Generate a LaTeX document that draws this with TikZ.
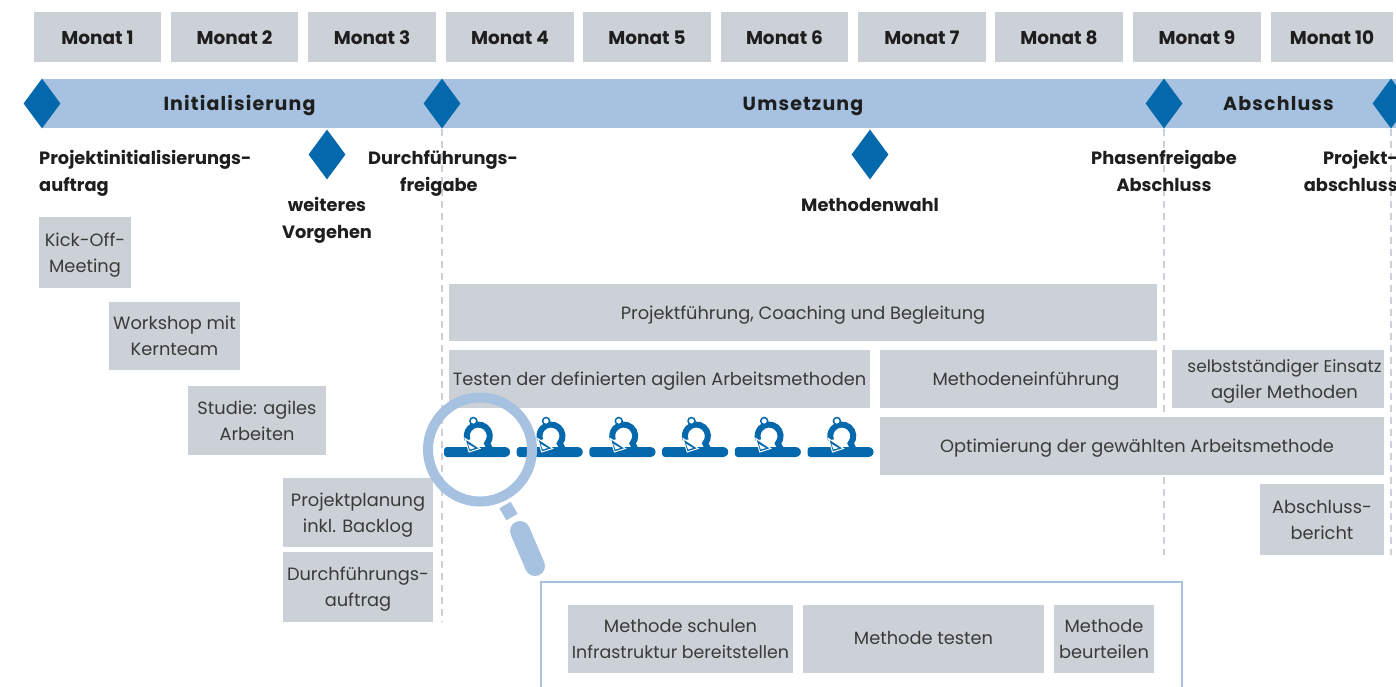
\documentclass[tikz,border=0pt]{standalone}
\usepackage{fontspec}
\setmainfont{Poppins}
\usetikzlibrary{shapes.geometric}
\definecolor{boxgray}{HTML}{CBD1D6}
\definecolor{bandblue}{HTML}{A6C2E0}
\definecolor{deepblue}{HTML}{0468AC}
\definecolor{txt}{HTML}{3A3A3A}
\definecolor{ink}{HTML}{1E1E1E}
\tikzset{
  graybox/.style={fill=boxgray,draw=none,inner sep=0pt,align=center,text=txt,font=\fontsize{17.8}{26}\selectfont},
  monthbox/.style={graybox,text=ink,font=\fontsize{18.5}{27}\bfseries\selectfont},
  bandbox/.style={fill=bandblue,draw=none,inner sep=0pt,text=ink,font=\fontsize{19}{27}\bfseries\addfontfeatures{LetterSpace=6}\selectfont},
  stone/.style={diamond,fill=deepblue,draw=none,inner sep=0pt,minimum width=37pt,minimum height=50pt,aspect=0.74},
  stonelabel/.style={inner sep=0pt,text=ink,font=\fontsize{17.8}{27}\bfseries\selectfont},
  gate/.style={draw=boxgray,line width=2pt,dash pattern=on 7pt off 5pt},
  lens/.style={draw=bandblue}
}
\newcommand{\bx}[7]{%
  \pgfmathsetmacro{\cxx}{(#3+#5)/2}\pgfmathsetmacro{\cyy}{(#4+#6)/2}%
  \pgfmathsetmacro{\wdd}{#5-#3}\pgfmathsetmacro{\htt}{#6-#4}%
  \node[#2,minimum width=\wdd pt,minimum height=\htt pt] (#1) at (\cxx,\cyy) {\raisebox{-1.7pt}[\height][\depth]{\begin{tabular}{@{}c@{}}#7\end{tabular}}};}
\newcommand{\sprint}[1]{%
  \begin{scope}[shift={(#1,0)}]
    \fill[deepblue,rounded corners=3pt] (444,447) -- (508,447) -- (511,452) -- (508,457) -- (444,457) -- cycle;
    \draw[deepblue,line width=6pt] (490,449) -- (487.1,443.4) arc (40:-200:11.5);
    \draw[white,line width=1pt,fill=deepblue] (465,438.5) -- (469,452) -- (480,448.5) -- cycle;
    \fill[white] (468,444) -- (470,449.5) -- (475,448) -- cycle;
    \draw[deepblue,line width=1.5pt,fill=white] (473.4,421) circle (3.5);
  \end{scope}}
\begin{document}
\begin{tikzpicture}[x=1pt,y=-1pt]
\useasboundingbox (0,0) rectangle (1396,686);
\bx{m1}{monthbox}{34}{12}{161}{62}{Monat 1}
\bx{m2}{monthbox}{171}{12}{298}{62}{Monat 2}
\bx{m3}{monthbox}{308}{12}{436}{62}{Monat 3}
\bx{m4}{monthbox}{446}{12}{574}{62}{Monat 4}
\bx{m5}{monthbox}{583}{12}{711}{62}{Monat 5}
\bx{m6}{monthbox}{721}{12}{848}{62}{Monat 6}
\bx{m7}{monthbox}{858}{12}{986}{62}{Monat 7}
\bx{m8}{monthbox}{995}{12}{1123}{62}{Monat 8}
\bx{m9}{monthbox}{1133}{12}{1261}{62}{Monat 9}
\bx{m10}{monthbox}{1271}{12}{1393}{62}{Monat 10}
\path[fill=bandblue] (42,79) rectangle (1396,128);
\node[bandbox,fill=none,anchor=base] (pI) at (239.5,110) {Initialisierung};
\node[bandbox,fill=none,anchor=base] (pU) at (803,110) {Umsetzung};
\node[bandbox,fill=none,anchor=base] (pA) at (1278.5,110) {Abschluss};
\coordinate (e1) at (442,622);
\coordinate (e2) at (1164,555);
\coordinate (e3) at (1391,555);
\node[stone] (d1) at (42,103.5) {};
\node[stone] (d2) at (442,103.5) {};
\node[stone] (d3) at (1164,103.5) {};
\node[stone] (d4) at (1391,103.5) {};
\node[stone] (d5) at (327,154.5) {};
\node[stone] (d6) at (870,154.5) {};
\draw[gate] (d2.south) -- (e1);
\draw[gate] (d3.south) -- (e2);
\draw[gate] (d4.south) -- (e3);
\node[stonelabel,align=left,anchor=north west] (l1) at (39,150) {Projektinitialisierungs-\\auftrag};
\node[stonelabel,align=center] (l2) at (327,220) {weiteres\\Vorgehen};
\node[stonelabel,align=left,anchor=north west] (l3) at (368,150) {Durchführungs-\\\hspace*{32pt}freigabe};
\node[stonelabel] (l4) at (870,205) {Methodenwahl};
\node[stonelabel,align=center] (l5) at (1164,170.5) {Phasenfreigabe\\Abschluss};
\node[stonelabel,align=right,anchor=north east] (l6) at (1398,150) {Projekt-\\abschluss};
\bx{b1}{graybox}{39}{217}{131}{288}{Kick-Off-\\Meeting}
\bx{b2}{graybox}{109}{302}{240}{370}{Workshop mit\\Kernteam}
\bx{b3}{graybox}{188}{386}{326}{455}{Studie: agiles\\Arbeiten}
\bx{b4}{graybox}{283}{478}{433}{547}{Projektplanung\\inkl. Backlog}
\bx{b5}{graybox}{283}{552}{433}{622}{Durchführungs-\\auftrag}
\bx{b6}{graybox}{449}{284}{1157}{341}{Projektführung, Coaching und Begleitung}
\bx{b7}{graybox}{449}{350}{870}{408}{Testen der definierten agilen Arbeitsmethoden}
\bx{b8}{graybox}{880}{350}{1157}{408}{\hspace*{15pt}Methodeneinführung}
\bx{b9}{graybox}{1172}{350}{1384}{408}{\hspace*{13pt}{\fontsize{17}{26}\selectfont selbstständiger Einsatz}\\\hspace*{13pt}{\fontsize{18}{26}\selectfont agiler Methoden}}
\bx{b10}{graybox}{880}{417}{1384}{475}{\hspace*{10pt}Optimierung der gewählten Arbeitsmethode}
\bx{b11}{graybox}{1260}{484}{1384}{555}{Abschluss-\\bericht}
\sprint{0}
\sprint{72.7}
\sprint{145.4}
\sprint{218.1}
\sprint{290.8}
\sprint{363.5}
\draw[lens,line width=10pt] (480,449.5) circle (52);
\draw[lens,line width=13pt] (505,505) -- (512,517);
\draw[lens,line width=20pt,line cap=round] (520,531) -- (535,566);
\draw[bandblue,line width=2pt] (541,690) -- (541,582) -- (1182,582) -- (1182,690);
\bx{c1}{graybox}{568}{605}{793}{673}{Methode schulen\\{\fontsize{17.4}{26}\selectfont Infrastruktur bereitstellen}}
\bx{c2}{graybox}{803}{605}{1044}{673}{\raisebox{1.7pt}[\height][\depth]{Methode testen}}
\bx{c3}{graybox}{1054}{605}{1154}{673}{Methode\\beurteilen}
\end{tikzpicture}
\end{document}
